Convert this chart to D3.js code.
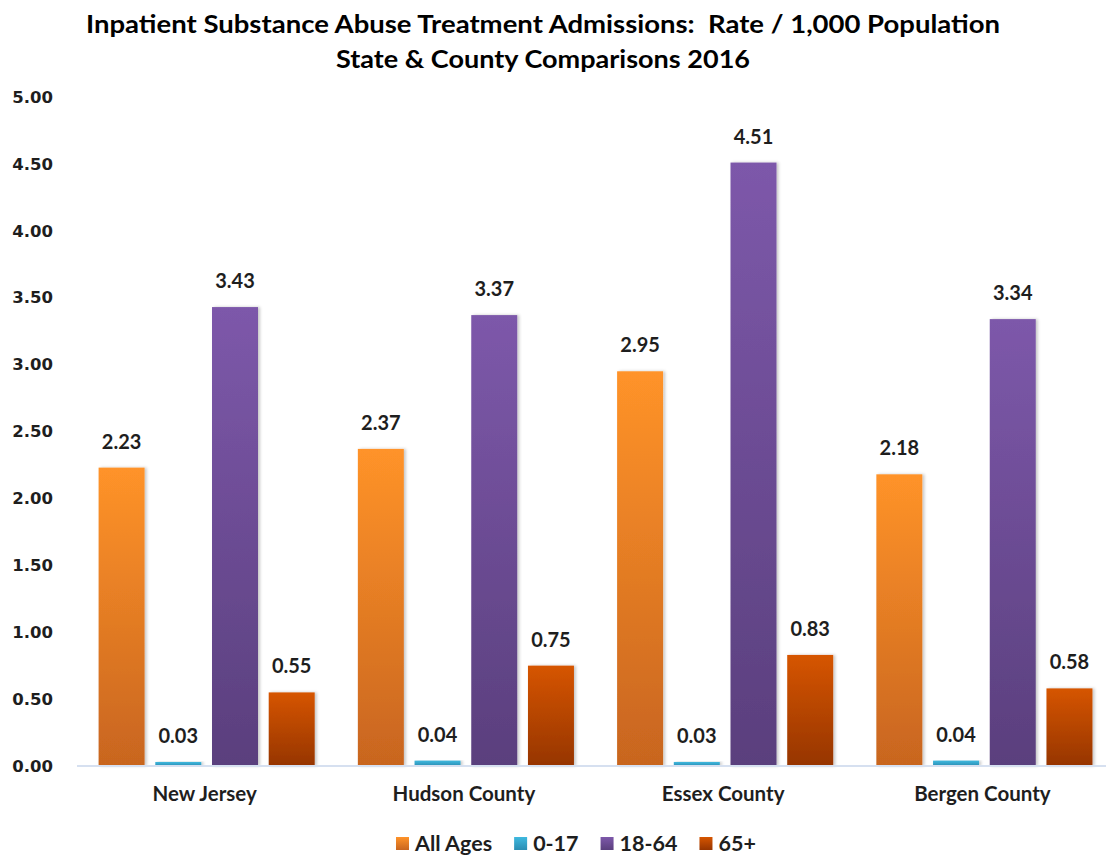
<!DOCTYPE html>
<html>
<head>
<meta charset="utf-8">
<script src="https://cdn.jsdelivr.net/npm/d3@7"></script>
<style>
  html, body { margin: 0; padding: 0; background: #fff; }
  svg { display: block; }
</style>
</head>
<body>
<svg id="chart" width="1106" height="855"></svg>
<script>
const categories = ["New Jersey", "Hudson County", "Essex County", "Bergen County"];
const seriesNames = ["All Ages", "0-17", "18-64", "65+"];
const allAges = [2.23, 2.37, 2.95, 2.18];
const age0to17 = [0.03, 0.04, 0.03, 0.04];
const age18to64 = [3.43, 3.37, 4.51, 3.34];
const age65plus = [0.55, 0.75, 0.83, 0.58];
const yTickValues = [0, 0.5, 1, 1.5, 2, 2.5, 3, 3.5, 4, 4.5, 5];
const titleLines = ["Inpatient Substance Abuse Treatment Admissions:  Rate / 1,000 Population",
                    "State & County Comparisons 2016"];

const seriesValues = [allAges, age0to17, age18to64, age65plus];
const gradStops = [
  ["#FF9329", "#C8651F"],
  ["#3FB9DF", "#2A8DB3"],
  ["#7D58AA", "#5A3F7D"],
  ["#D65500", "#963500"]
];

const svg = d3.select("#chart");
const defs = svg.append("defs");
gradStops.forEach((s, i) => {
  const g = defs.append("linearGradient").attr("id", "grad" + i)
    .attr("x1", 0).attr("y1", 0).attr("x2", 0).attr("y2", 1);
  g.append("stop").attr("offset", "0%").attr("stop-color", s[0]);
  g.append("stop").attr("offset", "100%").attr("stop-color", s[1]);
});
const f = defs.append("filter").attr("id", "shadow")
  .attr("x", "-20%").attr("y", "-5%").attr("width", "150%").attr("height", "110%");
f.append("feDropShadow").attr("dx", 2).attr("dy", 0).attr("stdDeviation", 1.6)
  .attr("flood-color", "#000").attr("flood-opacity", 0.22);

const y = d3.scaleLinear().domain([0, 5]).range([766, 97]);
const x0 = d3.scaleBand().domain(categories).range([77, 1114]).padding(0);
const x1 = d3.scaleBand().domain(seriesNames).range([21.6, 237.7]).paddingInner(0.189).paddingOuter(0);

const labelFont = "Lato, 'Open Sans', sans-serif";
const textColor = "#1e1e1e";

// Title
svg.append("g").selectAll("text").data(titleLines).join("text")
  .attr("x", 543)
  .attr("y", (d, i) => i === 0 ? 33 : 68)
  .attr("text-anchor", "middle")
  .attr("font-family", labelFont)
  .attr("font-weight", "bold")
  .attr("font-size", 24.5)
  .attr("fill", "#000")
  .style("white-space", "pre")
  .attr("xml:space", "preserve")
  .attr("textLength", (d, i) => i === 0 ? 914 : 414)
  .attr("lengthAdjust", "spacingAndGlyphs")
  .text(d => d);

// Y axis (labels only)
const yAxis = d3.axisLeft(y).tickValues(yTickValues).tickSize(0).tickPadding(0)
  .tickFormat(d3.format(".2f"));
const yg = svg.append("g").attr("transform", "translate(53,0)").call(yAxis);
yg.select(".domain").remove();
yg.selectAll("text")
  .attr("font-family", "'DejaVu Sans', Verdana, sans-serif")
  .attr("font-weight", "bold")
  .attr("font-size", 16.5)
  .attr("fill", textColor);

// Bars
const groups = svg.append("g").selectAll("g").data(categories).join("g")
  .attr("transform", d => `translate(${x0(d)},0)`);

groups.each(function(cat, ci) {
  const g = d3.select(this);
  const data = seriesNames.map((s, si) => ({ s, si, v: seriesValues[si][ci] }));
  g.selectAll("rect").data(data).join("rect")
    .attr("x", d => x1(d.s))
    .attr("y", d => y(d.v))
    .attr("width", x1.bandwidth())
    .attr("height", d => y(0) - y(d.v))
    .attr("fill", d => `url(#grad${d.si})`)
    .attr("filter", "url(#shadow)");
  g.selectAll("text.val").data(data).join("text")
    .attr("class", "val")
    .attr("x", d => x1(d.s) + x1.bandwidth() / 2)
    .attr("y", d => y(d.v) - 19)
    .attr("text-anchor", "middle")
    .attr("font-family", labelFont)
    .attr("font-weight", "bold")
    .attr("font-size", 20)
    .attr("fill", textColor)
    .text(d => d3.format(".2f")(d.v));
});

// Baseline axis line
svg.append("line")
  .attr("x1", 77).attr("x2", 1106)
  .attr("y1", y(0)).attr("y2", y(0))
  .attr("stroke", "#D6E0F0").attr("stroke-width", 2);

// Category labels
const xAxis = d3.axisBottom(x0).tickSize(0).tickPadding(0);
const xg = svg.append("g").attr("transform", "translate(-2,786)").call(xAxis);
xg.select(".domain").remove();
xg.selectAll("text")
  .attr("dy", "0.71em")
  .attr("font-family", labelFont)
  .attr("font-weight", "bold")
  .attr("font-size", 20.5)
  .attr("fill", textColor);

// Legend
const legend = svg.append("g");
let lx = 396;
seriesNames.forEach((s, i) => {
  legend.append("rect")
    .attr("x", lx).attr("y", 837).attr("width", 13).attr("height", 13)
    .attr("fill", `url(#grad${i})`);
  const t = legend.append("text")
    .attr("x", lx + 19).attr("y", 851)
    .attr("font-family", labelFont)
    .attr("font-weight", "bold")
    .attr("font-size", 21.5)
    .attr("fill", textColor)
    .text(s);
  lx = lx + 19 + t.node().getComputedTextLength() + 22;
});
</script>
</body>
</html>
